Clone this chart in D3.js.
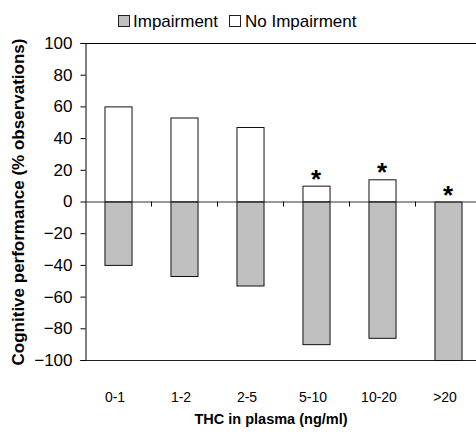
<!DOCTYPE html>
<html><head><meta charset="utf-8">
<script src="https://cdn.jsdelivr.net/npm/d3@7"></script>
<style>body{margin:0;background:#fff}svg{display:block}text{font-family:Arial,"Liberation Sans",sans-serif;fill:#000}</style>
</head><body><svg id="c" width="476" height="436"></svg>
<script>
const categories = ["0-1", "1-2", "2-5", "5-10", "10-20", ">20"];
const noImpairment = [60, 53, 47, 10, 14, 0];
const impairment = [-40, -47, -53, -90, -86, -100];
const significant = [false, false, false, true, true, true];
const yTicks = [100, 80, 60, 40, 20, 0, -20, -40, -60, -80, -100];

const svg = d3.select("#c");
const m = {left: 85, top: 43, right: 481, bottom: 360};

const x = d3.scaleBand().domain(categories).range([m.left, m.right]).paddingInner(0.59).paddingOuter(0.295);
const xb = d3.scaleBand().domain(categories).range([m.left, m.right]);
const y = d3.scaleLinear().domain([-100, 100]).range([m.bottom, m.top]);

// frame: top and bottom lines of the plot area
svg.append("line").attr("x1", m.left).attr("x2", 476).attr("y1", m.top + 0.5).attr("y2", m.top + 0.5).attr("stroke", "#000");
svg.append("line").attr("x1", m.left).attr("x2", 476).attr("y1", m.bottom + 0.5).attr("y2", m.bottom + 0.5).attr("stroke", "#222");

// y axis
const yAxis = svg.append("g").attr("transform", `translate(${m.left + 0.5},0)`)
  .call(d3.axisLeft(y).tickValues(yTicks).tickSize(5).tickPadding(8).tickFormat(d3.format("d")));
yAxis.select(".domain").attr("stroke", "#000");
yAxis.selectAll("line").attr("stroke", "#000");
yAxis.selectAll("text").style("font-size", "17px").attr("font-family", "Arial, Liberation Sans, sans-serif");

// bars: no impairment above zero, impairment below
const g = svg.append("g");
g.selectAll(".ni").data(categories).join("rect")
  .attr("x", d => x(d) + 0.5).attr("width", x.bandwidth())
  .attr("y", (d, i) => y(noImpairment[i]) + 0.5)
  .attr("height", (d, i) => y(0) - y(noImpairment[i]))
  .attr("fill", "#fff").attr("stroke", "#111");
g.selectAll(".im").data(categories).join("rect")
  .attr("x", d => x(d) + 0.5).attr("width", x.bandwidth())
  .attr("y", y(0) + 0.5)
  .attr("height", (d, i) => y(impairment[i]) - y(0))
  .attr("fill", "#c0c0c0").attr("stroke", "#111");

// zero line with category separator ticks
svg.append("line").attr("x1", m.left).attr("x2", 476).attr("y1", y(0) + 0.5).attr("y2", y(0) + 0.5).attr("stroke", "#333");
svg.selectAll(".xt").data(categories.slice(1)).join("line")
  .attr("x1", d => xb(d) + 0.5).attr("x2", d => xb(d) + 0.5)
  .attr("y1", y(0)).attr("y2", y(0) + 5).attr("stroke", "#000");

// significance markers
svg.selectAll(".star").data(categories.filter((d, i) => significant[i])).join("text")
  .attr("x", d => x(d) + x.bandwidth() / 2)
  .attr("y", d => y(noImpairment[categories.indexOf(d)]) + 2)
  .attr("text-anchor", "middle").style("font-size", "26px").style("font-weight", "bold")
  .text("*");

// category labels
svg.selectAll(".xl").data(categories).join("text")
  .attr("x", d => x(d) + x.bandwidth() / 2 - 3).attr("y", 402)
  .attr("text-anchor", "middle").style("font-size", "14px").text(d => d);

// axis titles
svg.append("text").attr("x", 271).attr("y", 424).attr("text-anchor", "middle")
  .style("font-size", "14.5px").style("font-weight", "bold").text("THC in plasma (ng/ml)");
svg.append("text").attr("transform", "translate(24,202) rotate(-90)").attr("text-anchor", "middle")
  .style("font-size", "17px").style("font-weight", "bold").text("Cognitive performance (% observations)");

// legend
const lg = svg.append("g");
lg.append("rect").attr("x", 118.5).attr("y", 15.5).attr("width", 11).attr("height", 11).attr("fill", "#c0c0c0").attr("stroke", "#222");
lg.append("text").attr("x", 133).attr("y", 27).style("font-size", "17px").text("Impairment");
lg.append("rect").attr("x", 229.5).attr("y", 15.5).attr("width", 11).attr("height", 11).attr("fill", "#fff").attr("stroke", "#222");
lg.append("text").attr("x", 245).attr("y", 27).style("font-size", "17px").text("No Impairment");
</script></body></html>
